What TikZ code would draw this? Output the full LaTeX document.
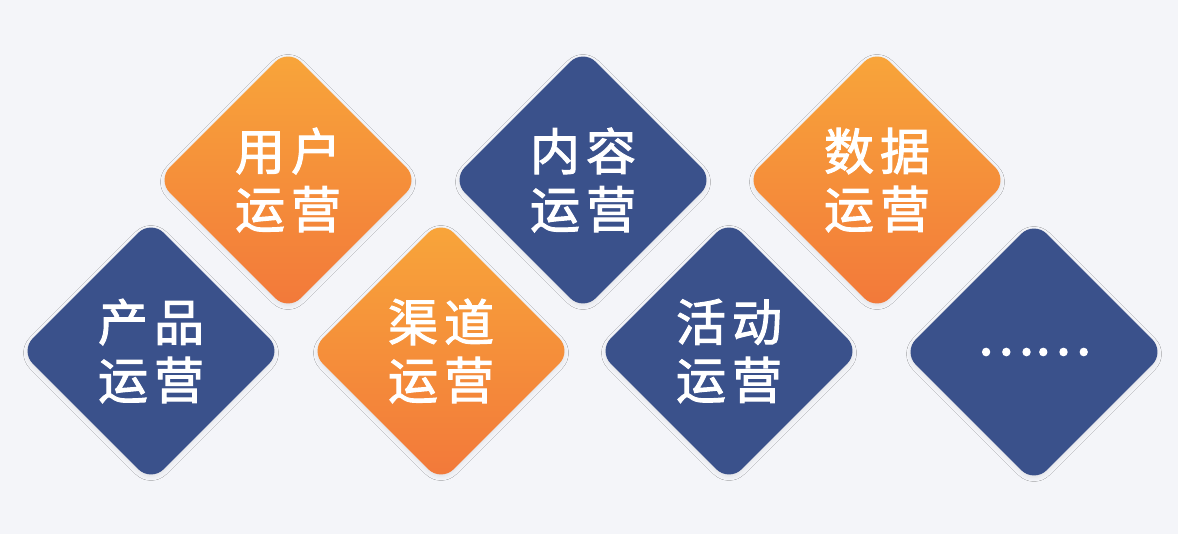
\documentclass[tikz,border=0pt]{standalone}
\usepackage{fontspec}
\newfontfamily\cjk[FakeBold=2]{Noto Sans CJK SC}
\usetikzlibrary{shapes.geometric,shadows.blur}
\definecolor{bg}{RGB}{244,245,249}
\definecolor{navy}{RGB}{58,81,139}
\definecolor{ortop}{RGB}{248,166,58}
\definecolor{orbot}{RGB}{242,120,58}
\tikzset{
  tile/.style={shape=diamond, minimum width=262pt, minimum height=262pt, inner sep=0pt,
    rounded corners=18pt, align=center, text=white,
    font=\cjk\fontsize{50}{58}\selectfont,
    blur shadow={shadow xshift=0pt, shadow yshift=-2pt, shadow blur radius=4pt, shadow opacity=8}},
  bluetile/.style={tile, fill=navy},
  orangetile/.style={tile, top color=ortop, bottom color=orbot},
}
\begin{document}
\begin{tikzpicture}[x=1pt,y=-1pt]
\fill[bg] (0,0) rectangle (1178,534);
\useasboundingbox (0,0) rectangle (1178,534);
\node[orangetile] (yonghu) at (288,180) {用\kern6pt户\\运\kern6pt营};
\node[bluetile] (neirong) at (583,180) {内\kern6pt容\\运\kern6pt营};
\node[orangetile] (shuju) at (877,180) {数\kern6pt据\\运\kern6pt营};
\node[bluetile] (chanpin) at (151,351) {产\kern6pt品\\运\kern6pt营};
\node[orangetile] (qudao) at (441,351) {渠\kern6pt道\\运\kern6pt营};
\node[bluetile] (huodong) at (729,351) {活\kern6pt动\\运\kern6pt营};
\node[bluetile, font=\cjk\fontsize{54}{60}\selectfont] (more) at (1034,352) {……};
\end{tikzpicture}
\end{document}
